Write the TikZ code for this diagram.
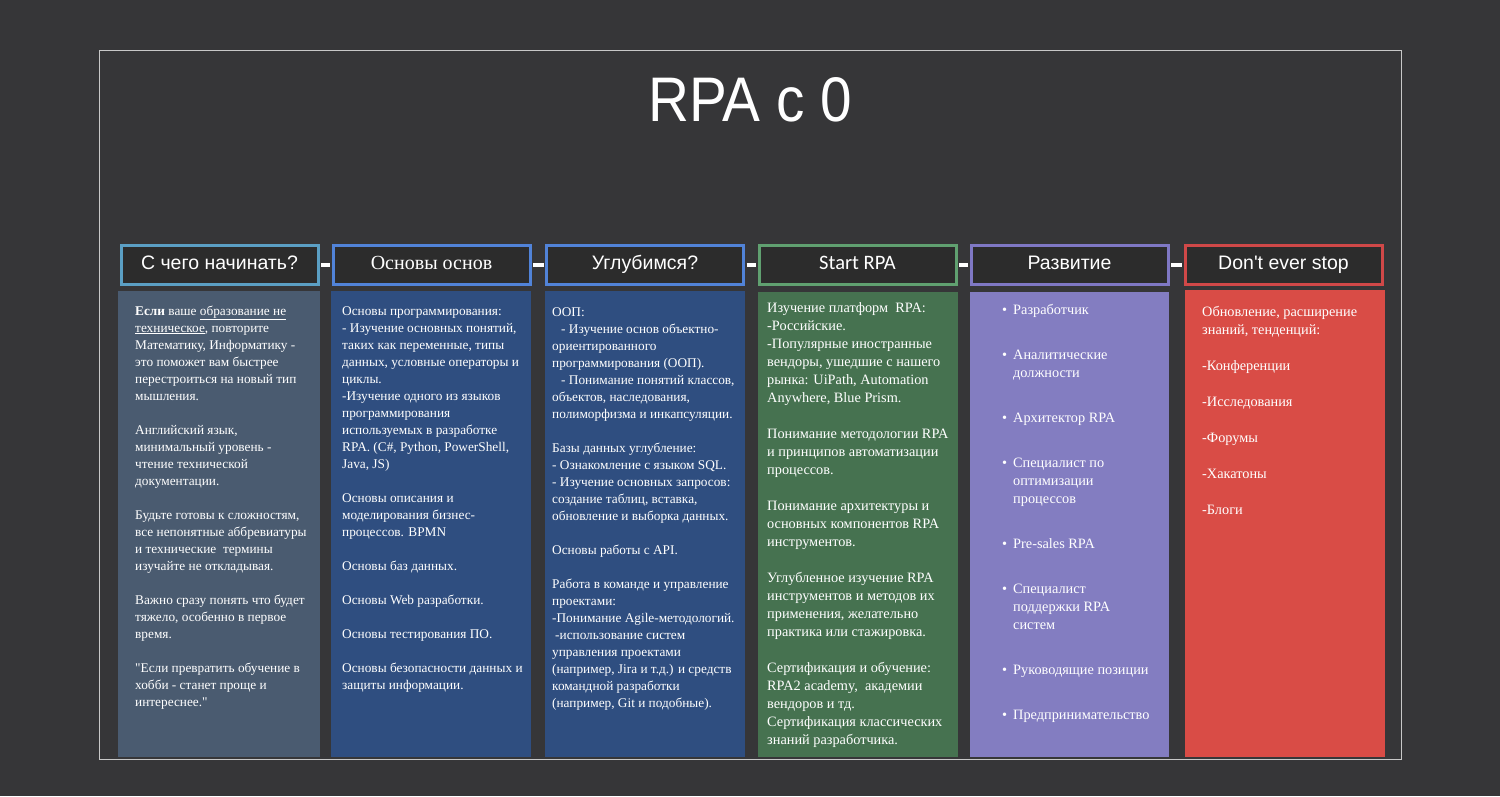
\documentclass[tikz,border=0pt]{standalone}
\usepackage{fontspec}
\setmainfont{Liberation Serif}
\newfontfamily\hdrsans{Liberation Sans}
\newfontfamily\hdrcal{Carlito}
\definecolor{bgdark}{HTML}{363638}
\definecolor{frameclr}{HTML}{C8C8C8}
\definecolor{hdrfill}{HTML}{2C2C2C}
\definecolor{bordA}{HTML}{5B9FC4}
\definecolor{bordB}{HTML}{5183D8}
\definecolor{bordC}{HTML}{60A070}
\definecolor{bordD}{HTML}{7F78C4}
\definecolor{bordE}{HTML}{D04848}
\definecolor{panA}{HTML}{4A5B70}
\definecolor{panB}{HTML}{2F4E80}
\definecolor{panC}{HTML}{467250}
\definecolor{panD}{HTML}{837DC1}
\definecolor{panE}{HTML}{D94C46}
\begin{document}
\begin{tikzpicture}[x=1pt, y=-1pt,
    hdr/.style={draw=#1, line width=3pt, fill=hdrfill, text=white,
        minimum width=197pt, minimum height=39pt, inner sep=0pt,
        text height=14pt, text depth=5pt,
        font=\hdrsans\fontsize{19.5}{22}\selectfont},
    conn/.style={draw=white, line width=4pt, shorten <=1.5pt, shorten >=1.5pt},
    txt/.style={anchor=north west, align=left, inner sep=0pt, text=white,
        font=\fontsize{13.3}{17}\selectfont},
    txtb/.style={txt, font=\fontsize{14.3}{18}\selectfont}]
    \useasboundingbox (0,0) rectangle (1500,796);
    % 背景与外框
    \fill[bgdark] (0,0) rectangle (1500,796);
    \draw[frameclr, line width=1.5pt] (99.5,50.5) rectangle (1401.5,759.5);
    \node[font=\hdrsans\fontsize{63}{70}\selectfont, text=white] (title) at (750,99.5)
        {\scalebox{0.9}[1]{RPA с 0}};

    % 栏目底色
    \fill[panA] (118,291) rectangle (320,757);
    \fill[panB] (331,291) rectangle (531,757);
    \fill[panB] (545,291) rectangle (745,757);
    \fill[panC] (758,292) rectangle (958,757);
    \fill[panD] (970,292) rectangle (1169,757);
    \fill[panE] (1185,290) rectangle (1385,757);

    % 标题框
    \node[hdr=bordA] (h1) at (219.5,265) {С чего начинать?};
    \node[hdr=bordB, font=\fontsize{20}{22}\selectfont] (h2) at (431.5,265) {Основы основ};
    \node[hdr=bordB] (h3) at (645,265) {Углубимся?};
    \node[hdr=bordC, font=\hdrcal\fontsize{20.5}{22}\selectfont] (h4) at (857.5,265) {Start RPA};
    \node[hdr=bordD] (h5) at (1069.5,265) {Развитие};
    \node[hdr=bordE] (h6) at (1283.5,265) {Don\textquotesingle t ever stop};
    \foreach \a/\b in {h1/h2, h2/h3, h3/h4, h4/h5, h5/h6}
        \draw[conn] (\a.east) -- (\b.west);

    % 各栏文字
    \node[txt] (t1) at (135,303) {\strut\textbf{Если} ваше \underline{образование не}\\
        \underline{техническое}, повторите\\ Математику, Информатику -\\
        это поможет вам быстрее\\ перестроиться на новый тип\\ мышления.\\[17pt]
        Английский язык,\\ минимальный уровень -\\ чтение технической\\ документации.\\[17pt]
        Будьте готовы к сложностям,\\ все непонятные аббревиатуры\\
        и технические\ \ термины\\ изучайте не откладывая.\\[17pt]
        Важно сразу понять что будет\\ тяжело, особенно в первое\\ время.\\[17pt]
        \textquotedbl Если превратить обучение в\\ хобби - станет проще и\\
        интереснее.\textquotedbl};
    \node[txt] (t2) at (342,303) {\strut Основы программирования:\\
        - Изучение основных понятий,\\ таких как переменные, типы\\
        данных, условные операторы и\\ циклы.\\ -Изучение одного из языков\\
        программирования\\ используемых в разработке\\
        RPA. (C\#, Python, PowerShell,\\ Java, JS)\\[17pt]
        Основы описания и\\ моделирования бизнес-\\ процессов. BPMN\\[17pt]
        Основы баз данных.\\[17pt] Основы Web разработки.\\[17pt]
        Основы тестирования ПО.\\[17pt]
        Основы безопасности данных и\\ защиты информации.};
    \node[txt] (t3) at (552,304) {\strut ООП:\\
        \hspace*{9pt}- Изучение основ объектно-\\ ориентированного\\
        программирования (ООП).\\ \hspace*{9pt}- Понимание понятий классов,\\
        объектов, наследования,\\ полиморфизма и инкапсуляции.\\[17pt]
        Базы данных углубление:\\ - Ознакомление с языком SQL.\\
        - Изучение основных запросов:\\ создание таблиц, вставка,\\
        обновление и выборка данных.\\[17pt]
        Основы работы с API.\\[17pt]
        Работа в команде и управление\\ проектами:\\
        -Понимание Agile-методологий.\\ \hspace*{3pt}-использование систем\\
        управления проектами\\ (например, Jira и т.д.) и средств\\
        командной разработки\\ (например, Git и подобные).};
    \node[txtb] (t4) at (767,299.5) {\strut Изучение платформ\ \ RPA:\\ -Российские.\\
        -Популярные иностранные\\ вендоры, ушедшие с нашего\\
        рынка: UiPath, Automation\\ Anywhere, Blue Prism.\\[18pt]
        Понимание методологии RPA\\ и принципов автоматизации\\ процессов.\\[18pt]
        Понимание архитектуры и\\ основных компонентов RPA\\ инструментов.\\[18pt]
        Углубленное изучение RPA\\ инструментов и методов их\\
        применения, желательно\\ практика или стажировка.\\[18pt]
        Сертификация и обучение:\\ RPA2 academy,\ \ академии\\ вендоров и тд.\\
        Сертификация классических\\ знаний разработчика.};
    \node[txtb] (t5) at (1013,301.5) {\strut\llap{\textbullet\hspace{6pt}}Разработчик\\[27pt]
        \llap{\textbullet\hspace{6pt}}Аналитические\\ должности\\[27pt]
        \llap{\textbullet\hspace{6pt}}Архитектор RPA\\[27pt]
        \llap{\textbullet\hspace{6pt}}Специалист по\\ оптимизации\\ процессов\\[27pt]
        \llap{\textbullet\hspace{6pt}}Pre-sales RPA\\[27pt]
        \llap{\textbullet\hspace{6pt}}Специалист\\ поддержки RPA\\ систем\\[27pt]
        \llap{\textbullet\hspace{6pt}}Руководящие позиции\\[27pt]
        \llap{\textbullet\hspace{6pt}}Предпринимательство};
    \node[txtb] (t6) at (1202,303.5) {\strut Обновление, расширение\\ знаний, тенденций:\\[18pt]
        -Конференции\\[18pt] -Исследования\\[18pt] -Форумы\\[18pt]
        -Хакатоны\\[18pt] -Блоги};
\end{tikzpicture}
\end{document}
